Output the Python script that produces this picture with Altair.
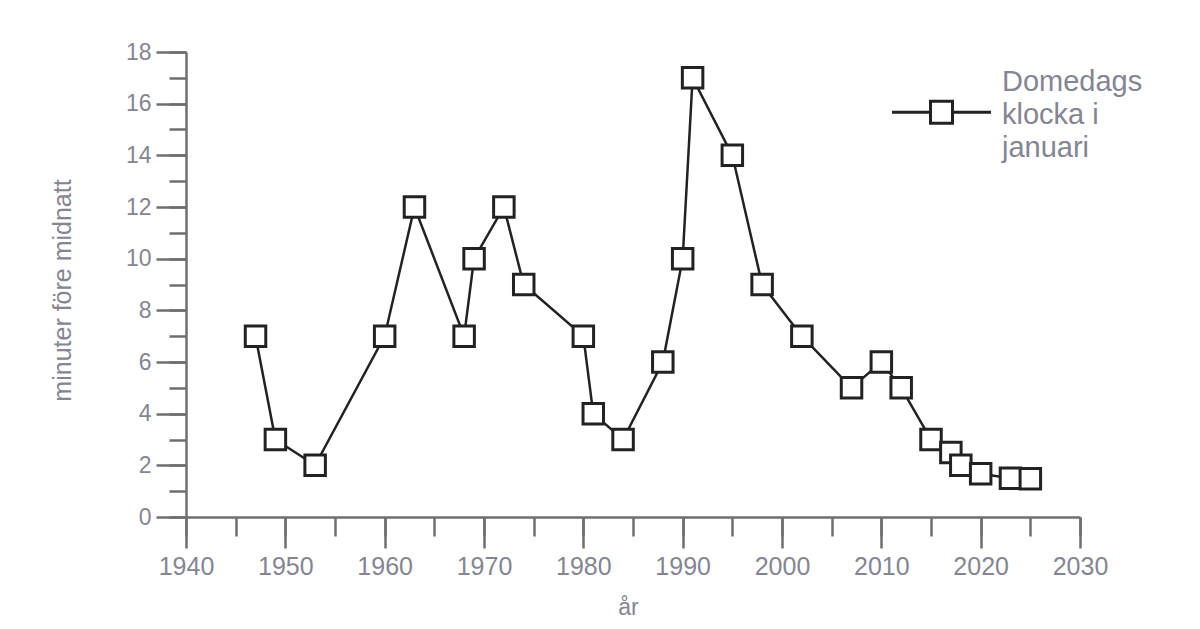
import altair as alt
import pandas as pd

years = [1947, 1949, 1953, 1960, 1963, 1968, 1969, 1972, 1974, 1980, 1981, 1984,
         1988, 1990, 1991, 1995, 1998, 2002, 2007, 2010, 2012, 2015, 2017, 2018,
         2020, 2023, 2025]
minutes = [7, 3, 2, 7, 12, 7, 10, 12, 9, 7, 4, 3,
           6, 10, 17, 14, 9, 7, 5, 6, 5, 3, 2.5, 2,
           1.67, 1.5, 1.48]
series_name = "Domedags klocka i januari"
legend_lines = ["Domedags", "klocka i", "januari"]
x_major = list(range(1940, 2031, 10))
x_minor = list(range(1940, 2031, 5))
y_major = list(range(0, 19, 2))
y_minor = list(range(0, 19, 1))

df = pd.DataFrame({"år": years, "minuter": minutes, "serie": series_name})

AX = "#6f6f6f"
LAB = "#858592"
FONT = "Liberation Sans"

xs = alt.Scale(domain=[1940, 2030], nice=False, zero=False)
ys = alt.Scale(domain=[0, 18], nice=False)

minor = alt.Chart(df).mark_point(opacity=0).encode(
    x=alt.X("år:Q", scale=xs, axis=alt.Axis(
        orient="bottom", values=x_minor, labels=False, domain=False, title=None,
        tickSize=19, tickWidth=2.5, tickColor=AX, grid=False)),
    y=alt.Y("minuter:Q", scale=ys, axis=alt.Axis(
        orient="left", values=y_minor, labels=False, domain=False, title=None,
        tickSize=17, tickWidth=2.5, tickColor=AX, grid=False)),
)

line = alt.Chart(df).mark_line(color="#222222", strokeWidth=2.5).encode(
    x=alt.X("år:Q", scale=xs, axis=alt.Axis(
        orient="bottom", values=x_major, format="d", tickSize=31, tickWidth=2.5,
        tickColor=AX, domainColor=AX, domainWidth=2.5, labelColor=LAB,
        labelFont=FONT, labelFontSize=25, labelPadding=6, labelFlush=False,
        labelOverlap=False, grid=False,
        title="år", titleFont=FONT, titleFontSize=23, titleFontWeight="normal",
        titleColor=LAB, titleX=442, titleY=90, titleAlign="center",
        titleBaseline="middle")),
    y=alt.Y("minuter:Q", scale=ys, axis=alt.Axis(
        orient="left", values=y_major, tickSize=30, tickWidth=2.5,
        tickColor=AX, domainColor=AX, domainWidth=2.5, labelColor=LAB,
        labelFont=FONT, labelFontSize=23, labelPadding=5, labelFlush=False,
        labelOverlap=False, grid=False,
        title="minuter före midnatt", titleFont=FONT, titleFontSize=25,
        titleFontWeight="normal", titleColor=LAB, titleX=-124, titleY=238,
        titleAlign="center", titleBaseline="middle", titleAngle=270)),
)

points = alt.Chart(df).mark_point(
    shape="square", size=420, filled=True, fill="white", strokeWidth=3, opacity=1
).encode(
    x=alt.X("år:Q", scale=xs, axis=None),
    y=alt.Y("minuter:Q", scale=ys, axis=None),
    stroke=alt.Stroke("serie:N", scale=alt.Scale(range=["#222222"]), legend=alt.Legend(
        title=None, orient="none", legendX=741, legendY=15, padding=0,
        symbolType="M-4.5,2.8H-1M1,2.8H4.5M-1,1.8H1V3.8H-1Z", symbolSize=484,
        symbolStrokeWidth=3, symbolFillColor="white", symbolStrokeColor="#222222",
        labelExpr="['" + "','".join(legend_lines) + "']",
        labelFont=FONT, labelFontSize=29, labelColor=LAB, labelOffset=46,
        labelLimit=400)),
)

chart = alt.layer(minor, line, points).resolve_axis(
    x="independent", y="independent"
).properties(
    width=894, height=465,
    autosize=alt.AutoSizeParams(type="none"),
    padding={"left": 178, "top": 44, "right": 100, "bottom": 104},
).configure(
    style={"guide-label": {"lineHeight": 33}}
).configure_view(stroke=None)

chart.save("out.html", embed_options={"renderer": "svg", "actions": False})
